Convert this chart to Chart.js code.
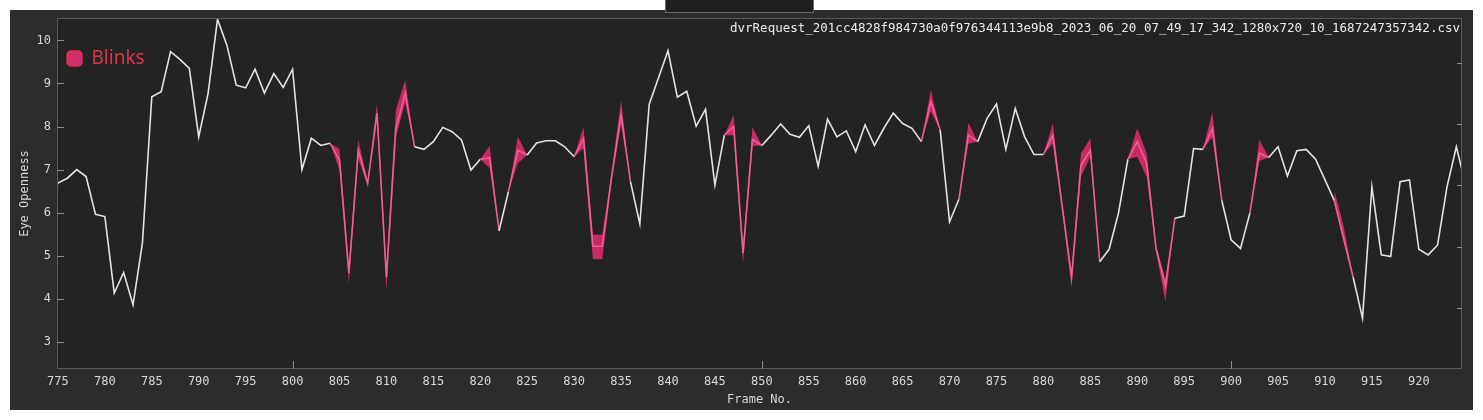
<!DOCTYPE html>
<html>
<head>
<meta charset="utf-8">
<script src="https://cdn.jsdelivr.net/npm/chart.js@4.4.1/dist/chart.umd.min.js"></script>
<style>
  body { margin: 0; background: #ffffff; width: 1483px; height: 420px; position: relative; overflow: hidden; }
  #panel { position: absolute; left: 10px; top: 10px; width: 1463px; height: 400px; background: #2c2c2f; }
  #tab { position: absolute; left: 665px; top: -1px; width: 149px; height: 14px; background: #1f1f1f; border: 1px solid #6c6c6c; box-sizing: border-box; }
</style>
</head>
<body>
<div id="panel"><canvas id="eye_openness_chart" width="1463" height="400"></canvas></div>
<div id="tab"></div>
<script>
// frame numbers on the x axis
const frame_numbers = [
  774, 775, 776, 777, 778, 779, 780, 781, 782, 783, 784, 785, 786, 787, 788, 789, 790, 791, 792, 793,
  794, 795, 796, 797, 798, 799, 800, 801, 802, 803, 804, 805, 806, 807, 808, 809, 810, 811, 812, 813,
  814, 815, 816, 817, 818, 819, 820, 821, 822, 823, 824, 825, 826, 827, 828, 829, 830, 831, 832, 833,
  834, 835, 836, 837, 838, 839, 840, 841, 842, 843, 844, 845, 846, 847, 848, 849, 850, 851, 852, 853,
  854, 855, 856, 857, 858, 859, 860, 861, 862, 863, 864, 865, 866, 867, 868, 869, 870, 871, 872, 873,
  874, 875, 876, 877, 878, 879, 880, 881, 882, 883, 884, 885, 886, 887, 888, 889, 890, 891, 892, 893,
  894, 895, 896, 897, 898, 899, 900, 901, 902, 903, 904, 905, 906, 907, 908, 909, 910, 911, 912, 913,
  914, 915, 916, 917, 918, 919, 920, 921, 922, 923, 924, 925
]

// eye openness per frame
const eye_openness = [
  6.10, 6.69, 6.80, 7.00, 6.84, 5.96, 5.91, 4.13, 4.61, 3.86, 5.29, 8.69, 8.81, 9.74, 9.56, 9.35, 7.76, 8.77, 10.49, 9.89,
  8.96, 8.90, 9.33, 8.78, 9.23, 8.91, 9.33, 7.00, 7.73, 7.56, 7.61, 7.22, 4.60, 7.45, 6.68, 8.31, 4.50, 7.95, 8.77, 7.53,
  7.47, 7.65, 7.98, 7.88, 7.69, 6.99, 7.24, 7.27, 5.58, 6.49, 7.45, 7.34, 7.62, 7.67, 7.67, 7.53, 7.30, 7.72, 5.22, 5.22,
  6.84, 8.28, 6.72, 5.74, 8.52, 9.14, 9.76, 8.68, 8.82, 8.01, 8.40, 6.64, 7.80, 8.00, 5.06, 7.70, 7.56, 7.80, 8.06, 7.82,
  7.75, 8.02, 7.08, 8.17, 7.76, 7.90, 7.42, 8.04, 7.56, 7.96, 8.31, 8.07, 7.96, 7.65, 8.58, 7.92, 5.79, 6.31, 7.80, 7.65,
  8.19, 8.52, 7.47, 8.42, 7.76, 7.35, 7.35, 7.80, 6.15, 4.51, 7.10, 7.45, 4.86, 5.15, 5.99, 7.24, 7.65, 7.15, 5.17, 4.30,
  5.87, 5.92, 7.49, 7.47, 7.95, 6.29, 5.37, 5.17, 5.99, 7.38, 7.28, 7.53, 6.85, 7.44, 7.47, 7.24, 6.76, 6.28, 5.40, 4.50,
  3.55, 6.60, 5.02, 4.98, 6.72, 6.76, 5.15, 5.02, 5.25, 6.60, 7.53, 6.63
]

// blink frames with the upper / lower edge of the shaded band
const blink_frames = [804, 805, 806, 807, 808, 809, 810, 811, 812, 813, 820, 821, 822, 823, 824, 825,
  830, 831, 832, 833, 834, 835, 836, 846, 847, 848, 849, 850, 867, 868, 869, 871, 872, 873,
  880, 881, 882, 883, 884, 885, 886, 889, 890, 891, 892, 893, 894, 897, 898, 899, 902, 903, 904, 911, 912, 913]
const blink_upper = [7.61, 7.48, 4.78, 7.69, 6.74, 8.54, 4.72, 8.38, 9.08, 7.53, 7.24, 7.55, 5.58, 6.49, 7.76, 7.34,
  7.30, 7.99, 5.49, 5.49, 6.95, 8.61, 6.72, 7.80, 8.27, 5.20, 7.99, 7.56, 7.65, 8.85, 7.92, 6.31, 8.09, 7.65,
  7.35, 8.07, 6.25, 4.62, 7.38, 7.73, 4.86, 7.24, 7.96, 7.38, 5.25, 4.45, 5.87, 7.47, 8.34, 6.29, 5.99, 7.70, 7.28, 6.52, 5.68, 4.50]
const blink_lower = [7.61, 6.99, 4.36, 7.25, 6.62, 8.15, 4.21, 7.75, 8.55, 7.53, 7.24, 7.03, 5.58, 6.49, 7.15, 7.34,
  7.30, 7.50, 4.92, 4.92, 6.75, 8.05, 6.72, 7.80, 7.80, 4.83, 7.55, 7.56, 7.65, 8.35, 7.92, 6.31, 7.60, 7.65,
  7.35, 7.60, 6.05, 4.25, 6.84, 7.30, 4.86, 7.24, 7.30, 6.83, 5.10, 3.94, 5.87, 7.47, 7.75, 6.29, 5.99, 7.20, 7.28, 6.20, 5.30, 4.50]

const major_frame_ticks = [800, 850, 900]
const right_axis_ticks = [1, 2, 3, 4, 5]
const file_name = 'dvrRequest_201cc4828f984730a0f976344113e9b8_2023_06_20_07_49_17_342_1280x720_10_1687247357342.csv'

const mono = 'DejaVu Sans Mono'
const label_color = '#d8d8d8'

const blink_lookup = {}
blink_frames.forEach((f, i) => { blink_lookup[f] = i })

function band_width(frame){
  const i = blink_lookup[frame]
  if (i === undefined) return -1
  return blink_upper[i] - blink_lower[i]
}

// pink segment only if both ends are blink frames and the band is open somewhere
function is_blink_segment(ctx){
  const w0 = band_width(frame_numbers[ctx.p0DataIndex])
  const w1 = band_width(frame_numbers[ctx.p1DataIndex])
  return w0 >= 0 && w1 >= 0 && (w0 > 0 || w1 > 0)
}

const line_points = frame_numbers.map((f, i) => ({x: f, y: eye_openness[i]}))
const upper_points = frame_numbers.map(f => ({x: f, y: f in blink_lookup ? blink_upper[blink_lookup[f]] : null}))
const lower_points = frame_numbers.map(f => ({x: f, y: f in blink_lookup ? blink_lower[blink_lookup[f]] : null}))

const frame_axis_plugin = {
  id: 'frame_axis_plugin',
  beforeDraw(chart){
    const {ctx, chartArea: a} = chart
    ctx.save()
    ctx.fillStyle = '#232323'
    ctx.fillRect(a.left, a.top, a.right - a.left, a.bottom - a.top)
    ctx.restore()
  },
  afterDraw(chart){
    const {ctx, chartArea: a, scales} = chart
    ctx.save()
    ctx.strokeStyle = '#595959'
    ctx.lineWidth = 1
    ctx.strokeRect(a.left + 0.5, a.top + 0.5, a.right - a.left - 1, a.bottom - a.top - 1)

    ctx.strokeStyle = '#8c8c8c'
    ctx.beginPath()
    scales.y.ticks.forEach(t => {
      const py = Math.round(scales.y.getPixelForValue(t.value)) + 0.5
      ctx.moveTo(a.left, py)
      ctx.lineTo(a.left + 7, py)
    })
    right_axis_ticks.forEach(v => {
      const py = Math.round(scales.y2.getPixelForValue(v)) + 0.5
      ctx.moveTo(a.right - 5, py)
      ctx.lineTo(a.right, py)
    })
    major_frame_ticks.forEach(f => {
      const px = Math.round(scales.x.getPixelForValue(f)) + 0.5
      ctx.moveTo(px, a.bottom - 8)
      ctx.lineTo(px, a.bottom)
    })
    ctx.stroke()

    ctx.fillStyle = '#ededed'
    ctx.font = '12.5px "' + mono + '"'
    ctx.textAlign = 'right'
    ctx.textBaseline = 'middle'
    ctx.fillText(file_name, a.right - 2, a.top + 11)
    ctx.restore()
  }
}

const ctx = document.getElementById('eye_openness_chart').getContext('2d')

const eye_openness_chart = new Chart(ctx, {
  type: 'line',
  data: {
    datasets: [
      {
        label: 'Eye Openness',
        data: line_points,
        borderColor: '#e3e3e3',
        borderWidth: 1.6,
        pointRadius: 0,
        tension: 0,
        segment: {
          borderColor: c => is_blink_segment(c) ? '#ee5e97' : undefined
        }
      },
      {
        label: 'Blink lower',
        data: lower_points,
        borderWidth: 0,
        pointRadius: 0,
        fill: false,
        spanGaps: false
      },
      {
        label: 'Blinks',
        data: upper_points,
        borderWidth: 0,
        pointRadius: 0,
        backgroundColor: 'rgba(212, 44, 104, 0.93)',
        fill: '-1',
        spanGaps: false
      }
    ]
  },
  options: {
    responsive: false,
    animation: false,
    devicePixelRatio: 1,
    layout: {
      padding: {top: 8, right: 11, left: 0, bottom: 0}
    },
    plugins: {
      tooltip: {enabled: false},
      title: {display: false},
      legend: {
        position: 'chartArea',
        align: 'start',
        title: {display: true, text: '', font: {size: 10}, padding: {top: 17, bottom: 0}},
        labels: {
          boxWidth: 15,
          boxHeight: 15,
          padding: 10,
          useBorderRadius: true,
          borderRadius: 4,
          color: '#da3549',
          font: {family: 'Noto Sans', size: 19},
          generateLabels: () => [{
            text: 'Blinks',
            fillStyle: '#d22f6b',
            strokeStyle: '#e0334f',
            lineWidth: 1.5,
            hidden: false,
            datasetIndex: 2,
            borderRadius: 4,
            fontColor: '#da3549'
          }]
        }
      }
    },
    scales: {
      x: {
        type: 'linear',
        min: 774.9,
        max: 924.6,
        grid: {display: false, drawTicks: false},
        border: {display: false},
        ticks: {
          stepSize: 5,
          includeBounds: false,
          autoSkip: false,
          maxRotation: 0,
          padding: 6,
          color: label_color,
          font: {family: mono, size: 12}
        },
        title: {
          display: true,
          text: 'Frame No.',
          color: label_color,
          font: {family: mono, size: 12},
          padding: {top: 0, bottom: 3}
        },
        afterFit: s => { s.height = 41; s.paddingLeft = 0; s.paddingRight = 0 }
      },
      y: {
        type: 'linear',
        position: 'left',
        min: 2.37,
        max: 10.52,
        grid: {display: false, drawTicks: false},
        border: {display: false},
        ticks: {
          stepSize: 1,
          includeBounds: false,
          padding: 6,
          color: label_color,
          font: {family: mono, size: 12}
        },
        title: {
          display: true,
          text: 'Eye Openness',
          color: label_color,
          font: {family: mono, size: 12},
          padding: {top: 8, bottom: 4}
        },
        afterFit: s => { s.width = 47; s.paddingTop = 0; s.paddingBottom = 0 }
      },
      y2: {
        type: 'linear',
        position: 'right',
        display: false,
        min: 0,
        max: 5.735
      }
    }
  },
  plugins: [frame_axis_plugin]
})
</script>
</body>
</html>
